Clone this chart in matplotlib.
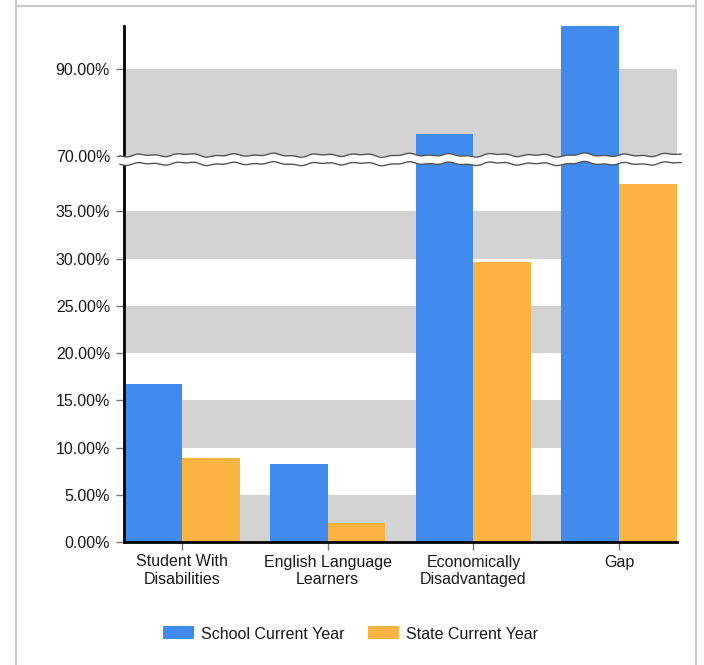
import numpy as np
import matplotlib
matplotlib.use("Agg")
import matplotlib.pyplot as plt
from matplotlib.patches import Patch, Polygon
from matplotlib.lines import Line2D
from matplotlib.transforms import IdentityTransform

categories = ["Student With\nDisabilities", "English Language\nLearners",
              "Economically\nDisadvantaged", "Gap"]
school_current = [16.7, 8.3, 75.0, 100.0]
state_current = [8.9, 2.0, 29.6, 37.9]
series_names = ["School Current Year", "State Current Year"]
ytick_values = [0, 5, 10, 15, 20, 25, 30, 35, 70, 90]
ytick_labels = ["0.00%", "5.00%", "10.00%", "15.00%", "20.00%", "25.00%",
                "30.00%", "35.00%", "70.00%", "90.00%"]
bands = [(0, 5), (10, 15), (20, 25), (30, 35), (70, 90)]

BLUE = "#418BEE"
ORANGE = "#FBB441"
GRAY = "#D3D3D3"
TXT = "#1a1a1a"

plt.rcParams["font.family"] = ["Liberation Sans", "DejaVu Sans"]
FS = 11.5

W, H = 704, 665
fig = plt.figure(figsize=(W / 100, H / 100), dpi=100)
fig.patch.set_facecolor("white")

# broken axis scale: 0-40 lower, small gap, 70-100 upper (compressed)
G = 8 / 9.47
S = 4.35 / 9.47


def fwd(v):
    v = np.asarray(v, dtype=float)
    return np.where(v <= 40, v,
                    np.where(v <= 70, 40 + (v - 40) * G / 30,
                             40 + G + (v - 70) * S))


def inv(u):
    u = np.asarray(u, dtype=float)
    return np.where(u <= 40, u,
                    np.where(u <= 40 + G, 40 + (u - 40) * 30 / G,
                             70 + (u - 40 - G) / S))


ax = fig.add_axes([124 / W, (H - 542) / H, (677 - 124) / W, (542 - 26) / H])
ax.set_yscale("function", functions=(fwd, inv))
ax.set_ylim(0, 100)

w = 0.397
x = np.arange(len(categories))
ax.set_xlim(-w, len(categories) - 1 + w)

for lo, hi in bands:
    ax.axhspan(lo, hi, color=GRAY, lw=0, zorder=0)

ax.bar(x - w / 2, school_current, width=w, color=BLUE, zorder=2, lw=0)
ax.bar(x + w / 2, state_current, width=w, color=ORANGE, zorder=2, lw=0)

ax.set_yticks(ytick_values)
ax.set_yticklabels(ytick_labels)
ax.yaxis.set_minor_locator(matplotlib.ticker.NullLocator())
ax.set_xticks(x)
ax.set_xticklabels(categories)
ax.tick_params(axis="both", labelsize=FS, colors="#777777", labelcolor=TXT,
               length=6, width=1)
ax.tick_params(axis="y", pad=4)
ax.tick_params(axis="x", pad=3)
for s in ["top", "right"]:
    ax.spines[s].set_visible(False)
for s in ["left", "bottom"]:
    ax.spines[s].set_color("black")
    ax.spines[s].set_linewidth(2)
    ax.spines[s].set_zorder(5)

# wavy break band (in display pixels)
y70 = ax.transData.transform((0, 70))[1] + 1.0
y40 = ax.transData.transform((0, 40))[1] + 0.5
xs = np.linspace(120, 681, 300)
wave = 1.1 * np.sin(xs / 7.0) + 0.7 * np.sin(xs / 3.1 + 1.3) + 0.5 * np.sin(xs / 13.0 + 0.4)
top = y70 + wave
bot = y40 + wave
poly = Polygon(np.column_stack([np.r_[xs, xs[::-1]], np.r_[top, bot[::-1]]]),
               closed=True, facecolor="white", edgecolor="none",
               transform=IdentityTransform(), zorder=6)
fig.add_artist(poly)
fig.add_artist(Line2D(xs, top, color="#555555", lw=1.0, transform=IdentityTransform(), zorder=7))
fig.add_artist(Line2D(xs, bot, color="#555555", lw=1.0, transform=IdentityTransform(), zorder=7))

# legend
handles = [Patch(facecolor=BLUE, edgecolor="none"), Patch(facecolor=ORANGE, edgecolor="none")]
leg = fig.legend(handles, series_names, loc="center", bbox_to_anchor=(350.5 / W, (H - 634) / H),
                 ncol=2, frameon=False, fontsize=FS, handlelength=1.94, handleheight=0.875,
                 handletextpad=0.45, columnspacing=1.45, labelcolor=TXT)

# outer frame
fc = "#C8C8C8"
fig.add_artist(Line2D([16, 16], [0, H], color=fc, lw=1.5, transform=IdentityTransform()))
fig.add_artist(Line2D([696, 696], [0, H], color=fc, lw=1.5, transform=IdentityTransform()))
fig.add_artist(Line2D([16, 696], [H - 6, H - 6], color=fc, lw=1.5, transform=IdentityTransform()))

fig.savefig("out.png", dpi=100)
